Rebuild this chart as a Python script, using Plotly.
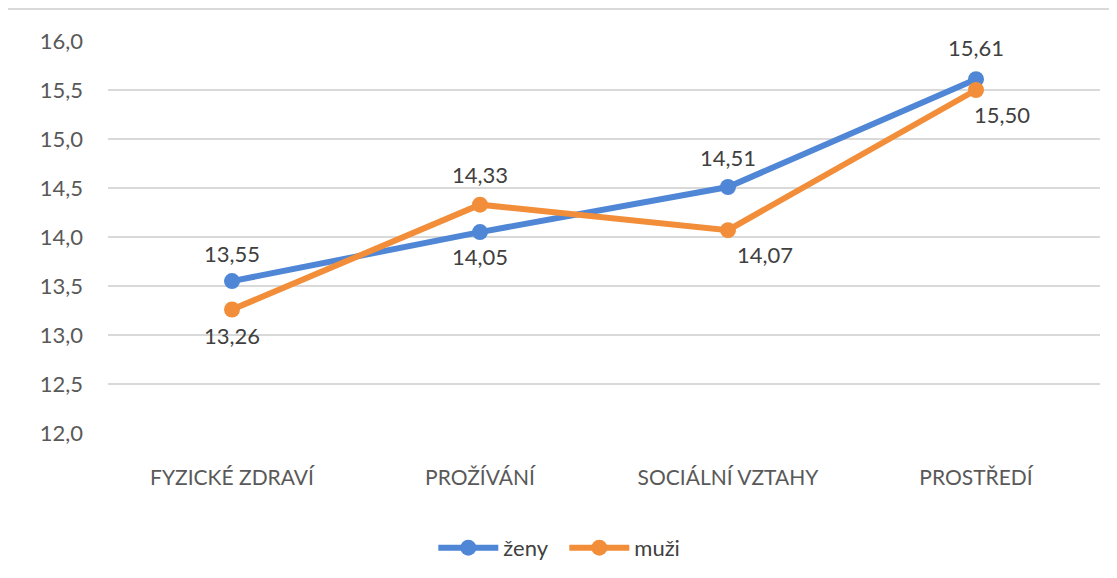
import plotly.graph_objects as go

categories = ["FYZICKÉ ZDRAVÍ", "PROŽÍVÁNÍ", "SOCIÁLNÍ VZTAHY", "PROSTŘEDÍ"]
zeny = [13.55, 14.05, 14.51, 15.61]
muzi = [13.26, 14.33, 14.07, 15.50]
y_ticks = [12.0, 12.5, 13.0, 13.5, 14.0, 14.5, 15.0, 15.5, 16.0]

BLUE = "#4F86D5"
ORANGE = "#F28E3A"
TXT = "#404040"
FONT = "Lato, 'Open Sans', sans-serif"

# label offsets (px): (xshift, yshift)
zeny_off = [(0, 28), (0, -24), (0, 30), (0, 32)]
muzi_off = [(0, -26), (0, 30), (37, -24), (26, -24)]

fig = go.Figure()
fig.add_trace(go.Scatter(x=categories, y=zeny, mode="lines+markers", name="ženy",
                         line=dict(color=BLUE, width=6), marker=dict(size=16, color=BLUE)))
fig.add_trace(go.Scatter(x=categories, y=muzi, mode="lines+markers", name="muži",
                         line=dict(color=ORANGE, width=6), marker=dict(size=16, color=ORANGE)))

anns = []
for vals, offs in ((zeny, zeny_off), (muzi, muzi_off)):
    for c, v, (dx, dy) in zip(categories, vals, offs):
        anns.append(dict(x=c, y=v, xref="x", yref="y", text=f"{v:.2f}".replace(".", ","),
                         showarrow=False, xshift=dx, yshift=dy,
                         font=dict(family=FONT, size=22, color=TXT)))

fig.update_layout(
    width=1117, height=578,
    margin=dict(l=100, r=25, t=33, b=153),
    paper_bgcolor="white", plot_bgcolor="white",
    separators=", ",
    font=dict(family=FONT, size=21, color="#595959"),
    showlegend=True,
    legend=dict(orientation="h", x=0.46, xanchor="center", y=-0.293, yanchor="middle",
                font=dict(size=22, color=TXT), itemwidth=60, entrywidth=56,
                entrywidthmode="pixels", traceorder="normal"),
    annotations=anns,
    shapes=[dict(type="rect", xref="paper", yref="paper", x0=-0.1028, x1=1.2, y0=-0.6, y1=1.0816,
                 line=dict(color="#D9D9D9", width=2), fillcolor="rgba(0,0,0,0)", layer="below")],
)
fig.update_xaxes(type="category", range=[-0.5, 3.5], showgrid=False, showline=False, zeroline=False,
                 ticks="", ticklabelstandoff=30, tickfont=dict(size=21, color="#595959"))
fig.update_yaxes(range=[12, 16], tickvals=y_ticks, tickformat=".1f", showgrid=True,
                 gridcolor="#D9D9D9", gridwidth=1.5, zeroline=False, showline=False, ticks="",
                 ticklabelstandoff=24, tickfont=dict(size=22, color="#595959"))

fig.write_html("out.html")
